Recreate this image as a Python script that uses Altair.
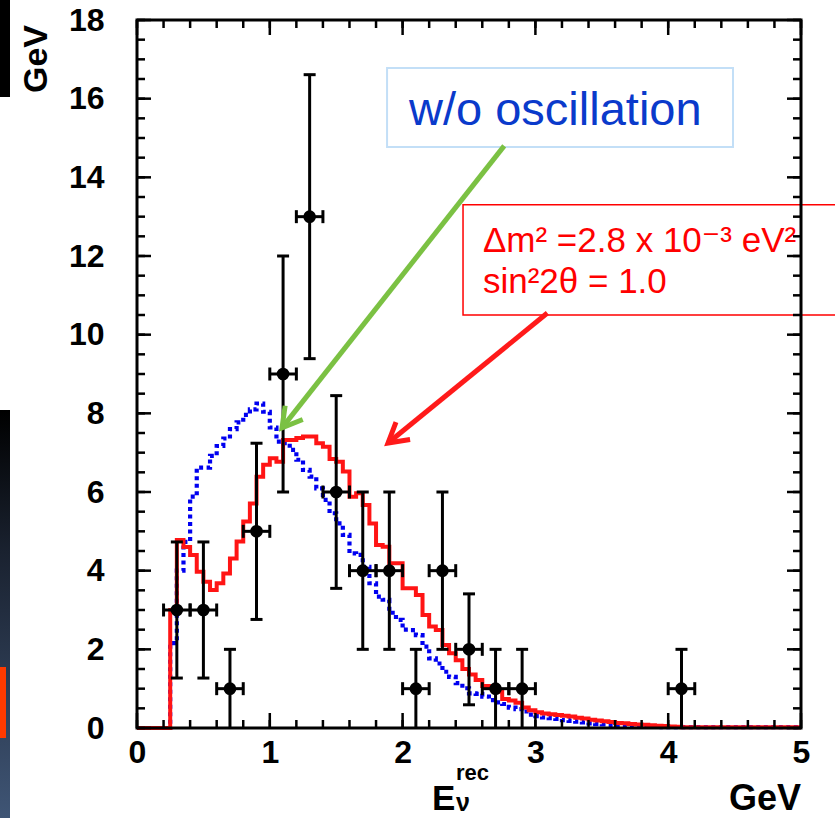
import altair as alt
import pandas as pd

FONT = "Liberation Sans, Arial, DejaVu Sans"

# ---------------- data ----------------
# reconstructed-energy histograms, 0.05 GeV bins, left edges 0.00 ... 4.95
osc_expected = [
    0, 0, 0, 0, 0, 3.00, 4.78, 4.60, 4.40, 3.97,
    3.72, 3.51, 3.68, 3.93, 4.31, 4.74, 5.25, 5.71, 6.39, 6.69,
    6.86, 6.77, 7.32, 7.32, 7.37, 7.41, 7.41, 7.24, 7.15, 6.84,
    6.77, 6.52, 5.88, 5.97, 5.67, 5.20, 4.65, 4.61, 4.19, 4.19,
    3.55, 3.55, 3.38, 2.87, 2.58, 2.49, 2.11, 1.90, 1.72, 1.50,
    1.36, 1.22, 1.07, 1.02, 0.92, 0.74, 0.70, 0.64, 0.52, 0.45,
    0.40, 0.37, 0.35, 0.33, 0.31, 0.29, 0.26, 0.24, 0.21, 0.19,
    0.17, 0.15, 0.13, 0.12, 0.10, 0.09, 0.08, 0.07, 0.06, 0.05,
    0.04, 0.03, 0.02, 0.02, 0.02, 0.02, 0.02, 0.02, 0.02, 0.02,
    0.02, 0.02, 0.02, 0.02, 0.02, 0.02, 0.02, 0.02, 0.02, 0.02,
]
noosc_expected = [
    0, 0, 0, 0, 0, 2.16, 4.00, 4.73, 5.88, 6.62,
    6.62, 6.92, 7.17, 7.36, 7.60, 7.77, 7.96, 8.10, 8.25, 8.04,
    7.64, 7.28, 7.24, 7.07, 6.82, 6.56, 6.39, 6.09, 5.80, 5.46,
    5.20, 4.91, 4.44, 4.40, 4.10, 3.68, 3.34, 3.26, 2.93, 2.75,
    2.50, 2.49, 2.36, 2.07, 1.77, 1.64, 1.43, 1.30, 1.14, 1.01,
    0.88, 0.87, 0.80, 0.71, 0.65, 0.61, 0.52, 0.48, 0.42, 0.34,
    0.30, 0.27, 0.25, 0.23, 0.20, 0.18, 0.16, 0.14, 0.12, 0.10,
    0.09, 0.08, 0.07, 0.06, 0.05, 0.04, 0.04, 0.03, 0.03, 0.02,
    0.02, 0.02, 0.02, 0.02, 0.02, 0.02, 0.02, 0.02, 0.02, 0.02,
    0.02, 0.02, 0.02, 0.02, 0.02, 0.02, 0.02, 0.02, 0.02, 0.02,
]
bin_edges = [round(0.05 * i, 2) for i in range(101)]

# observed events (0.2 GeV bins)
data_E = [0.3, 0.5, 0.7, 0.9, 1.1, 1.3, 1.5, 1.7, 1.9, 2.1, 2.3, 2.5, 2.7, 2.9, 4.1]
data_N = [3, 3, 1, 5, 9, 13, 6, 4, 4, 1, 4, 2, 1, 1, 1]
data_err = [1.73, 1.73, 1.0, 2.24, 3.0, 3.61, 2.45, 2.0, 2.0, 1.0, 2.0, 1.41, 1.0, 1.0, 1.0]
data_halfwidth = 0.1

x_tick_labels = [0, 1, 2, 3, 4, 5]
y_tick_labels = [0, 2, 4, 6, 8, 10, 12, 14, 16, 18]
x_minor = [round(0.2 * i, 1) for i in range(26)]
y_minor = [0.5 * i for i in range(37)]

label_noosc = "w/o oscillation"
label_osc1 = "\u0394m\u00b2 =2.8 x 10\u207b\u00b3 eV\u00b2"
label_osc2 = "sin\u00b22\u03b8 = 1.0"

# ---------------- layout ----------------
W, H = 664, 708
XS = alt.Scale(domain=[0, 5], nice=False, zero=False)
YS = alt.Scale(domain=[0, 18], nice=False, zero=False)
X_AXIS = alt.Axis(values=x_tick_labels, format="d", ticks=False, domain=False, grid=False,
                  labelFont=FONT, labelFontSize=32, labelFontWeight="bold", labelColor="black",
                  labelPadding=9, labelFlush=False, labelOverlap=False, title=None)
Y_AXIS = alt.Axis(values=y_tick_labels, format="d", ticks=False, domain=False, grid=False,
                  labelFont=FONT, labelFontSize=32, labelFontWeight="bold", labelColor="black",
                  labelPadding=33, labelFlush=False, labelOverlap=False, title=None)


def X(f="x"):
    return alt.X(f"{f}:Q", scale=XS, axis=X_AXIS)


def Y(f="y"):
    return alt.Y(f"{f}:Q", scale=YS, axis=Y_AXIS)


one = pd.DataFrame({"a": [0]})

hist = pd.DataFrame({
    "x": bin_edges,
    "osc": osc_expected + [osc_expected[-1]],
    "noosc": noosc_expected + [noosc_expected[-1]],
})

blue_line = alt.Chart(hist).mark_line(
    interpolate="step-after", color="#0000f0", strokeWidth=4.2, strokeDash=[4, 3.5]
).encode(x=X(), y=Y("noosc"))
red_line = alt.Chart(hist).mark_line(
    interpolate="step-after", color="#ff1414", strokeWidth=4
).encode(x=X(), y=Y("osc"))

pts = pd.DataFrame({"x": data_E, "y": data_N, "err": data_err})
pts["ylo"] = (pts["y"] - pts["err"]).clip(lower=0)
pts["yhi"] = pts["y"] + pts["err"]
pts["xlo"] = pts["x"] - data_halfwidth
pts["xhi"] = pts["x"] + data_halfwidth
pts_lo = pts[pts["ylo"] > 0.01]

vbar = alt.Chart(pts).mark_rule(color="black", strokeWidth=3).encode(x=X(), y=Y("ylo"), y2="yhi")
hbar = alt.Chart(pts).mark_rule(color="black", strokeWidth=3).encode(x=X("xlo"), x2="xhi", y=Y())
cap_hi = alt.Chart(pts).mark_tick(orient="horizontal", size=12, thickness=3, color="black",
                                  opacity=1).encode(x=X(), y=Y("yhi"))
cap_lo = alt.Chart(pts_lo).mark_tick(orient="horizontal", size=12, thickness=3, color="black",
                                     opacity=1).encode(x=X(), y=Y("ylo"))
cap_l = alt.Chart(pts).mark_tick(orient="vertical", size=13, thickness=3, color="black",
                                 opacity=1).encode(x=X("xlo"), y=Y())
cap_r = alt.Chart(pts).mark_tick(orient="vertical", size=13, thickness=3, color="black",
                                 opacity=1).encode(x=X("xhi"), y=Y())
dots = alt.Chart(pts).mark_circle(size=160, color="black", opacity=1).encode(x=X(), y=Y())

# ---------------- annotations (data coordinates) ----------------
box_blue = pd.DataFrame({"x": [1.883], "x2": [4.488], "y": [16.78], "y2": [14.77]})
box_red = pd.DataFrame({"x": [2.455], "x2": [5.4], "y": [13.30], "y2": [10.50]})
blue_box = alt.Chart(box_blue).mark_rect(fill="white", stroke="#c3dff7", strokeWidth=2).encode(
    x=X(), x2="x2", y=Y(), y2="y2")
red_box = alt.Chart(box_red).mark_rect(fill="white", stroke="#ff0000", strokeWidth=1.5).encode(
    x=X(), x2="x2", y=Y(), y2="y2")

txt_blue = alt.Chart(pd.DataFrame({"x": [3.15], "y": [15.33], "t": [label_noosc]})).mark_text(
    align="center", baseline="alphabetic", font=FONT, fontSize=47, color="#0a3acb").encode(
    x=X(), y=Y(), text="t:N")
txt_red = alt.Chart(pd.DataFrame({"x": [2.605, 2.605], "y": [12.10, 11.06],
                                  "t": [label_osc1, label_osc2]})).mark_text(
    align="left", baseline="alphabetic", font=FONT, fontSize=35, color="#ff0000").encode(
    x=X(), y=Y(), text="t:N")

arrows = pd.DataFrame({
    "x": [2.765, 3.09], "y": [14.80, 10.55],
    "x2": [1.092, 1.890], "y2": [7.63, 7.246],
    "c": ["green", "red"],
})
ARROW_COLORS = alt.Scale(domain=["green", "red"], range=["#7bc143", "#ff1a1a"])
shafts = alt.Chart(arrows).mark_rule(strokeWidth=5).encode(
    x=X(), y=Y(), x2="x2", y2="y2", color=alt.Color("c:N", scale=ARROW_COLORS, legend=None))
CHEVRON = "M-0.577,1 L0,0 L0.577,1"
head_g = alt.Chart(arrows[arrows["c"] == "green"]).mark_point(
    shape=CHEVRON, size=1500, filled=False, strokeWidth=5, angle=218, color="#7bc143",
    opacity=1, strokeJoin="miter").encode(x=X("x2"), y=Y("y2"))
head_r = alt.Chart(arrows[arrows["c"] == "red"]).mark_point(
    shape=CHEVRON, size=1500, filled=False, strokeWidth=5, angle=231, color="#ff1a1a",
    opacity=1, strokeJoin="miter").encode(x=X("x2"), y=Y("y2"))

# ---------------- inner ticks and frame ----------------
xmin_df = pd.DataFrame({"v": x_minor})
xmaj_df = pd.DataFrame({"v": [float(v) for v in x_tick_labels]})
ymin_df = pd.DataFrame({"v": y_minor})
ymaj_df = pd.DataFrame({"v": [float(v) for v in y_tick_labels]})
TK = dict(color="black", strokeWidth=2.5)
ticks = [
    alt.Chart(ymin_df).mark_rule(**TK).encode(y=Y("v"), x=alt.value(0), x2=alt.value(8)),
    alt.Chart(ymaj_df).mark_rule(**TK).encode(y=Y("v"), x=alt.value(0), x2=alt.value(14)),
    alt.Chart(ymin_df).mark_rule(**TK).encode(y=Y("v"), x=alt.value(W - 8), x2=alt.value(W)),
    alt.Chart(ymaj_df).mark_rule(**TK).encode(y=Y("v"), x=alt.value(W - 14), x2=alt.value(W)),
    alt.Chart(xmin_df).mark_rule(**TK).encode(x=X("v"), y=alt.value(H - 8), y2=alt.value(H)),
    alt.Chart(xmaj_df).mark_rule(**TK).encode(x=X("v"), y=alt.value(H - 15), y2=alt.value(H)),
    alt.Chart(xmin_df).mark_rule(**TK).encode(x=X("v"), y=alt.value(0), y2=alt.value(8)),
    alt.Chart(xmaj_df).mark_rule(**TK).encode(x=X("v"), y=alt.value(0), y2=alt.value(15)),
]
frame = alt.Chart(one).mark_rect(filled=False, stroke="black", strokeWidth=3).encode(
    x=alt.value(0), x2=alt.value(W), y=alt.value(0), y2=alt.value(H))

# ---------------- axis title pieces (pixels relative to the plot) ----------------
def ptext(t, x, y, size, align="left", angle=0, weight="bold"):
    kw = dict(align=align, baseline="alphabetic", font=FONT, fontSize=size,
              fontWeight=weight, color="black")
    if angle:
        kw["angle"] = angle
    return alt.Chart(pd.DataFrame({"t": [t]})).mark_text(**kw).encode(
        x=alt.value(x), y=alt.value(y), text="t:N")

title_E = ptext("E", 295, 790, 35)
title_rec = ptext("rec", 319, 760, 22)
title_nu = ptext("\u03bd", 319, 791, 25)
title_gev = ptext("GeV", 664, 790, 36, align="right")
ylab_gev = ptext("GeV", -90, 5, 34, align="right", angle=270)

# ---------------- slide remnants at the left edge ----------------
deco_black = alt.Chart(one).mark_rect(color="black").encode(
    x=alt.value(-137), x2=alt.value(-127), y=alt.value(-20), y2=alt.value(77))
deco_strip = alt.Chart(one).mark_rect(
    fill=alt.Gradient(gradient="linear", x1=0, x2=0, y1=0, y2=1,
                      stops=[alt.GradientStop(color="#000000", offset=0),
                             alt.GradientStop(color="#1a2230", offset=0.35),
                             alt.GradientStop(color="#3f5575", offset=1)])).encode(
    x=alt.value(-137), x2=alt.value(-127), y=alt.value(390), y2=alt.value(798))
deco_orange = alt.Chart(one).mark_rect(color="#ff3a00").encode(
    x=alt.value(-137), x2=alt.value(-131), y=alt.value(647), y2=alt.value(718))

chart = alt.layer(
    deco_black, deco_strip, deco_orange, ylab_gev,
    blue_line, red_line,
    vbar, hbar, cap_hi, cap_lo, cap_l, cap_r, dots,
    blue_box, txt_blue, red_box, txt_red,
    shafts, head_g, head_r,
    *ticks, frame,
    title_E, title_rec, title_nu, title_gev,
).properties(
    width=W, height=H,
    padding={"left": 137, "top": 20, "right": 34, "bottom": 90},
    autosize=alt.AutoSizeParams(type="none"),
    background="white",
).configure_view(stroke=None)

chart.save("out.html", embed_options={"renderer": "svg", "actions": False})
